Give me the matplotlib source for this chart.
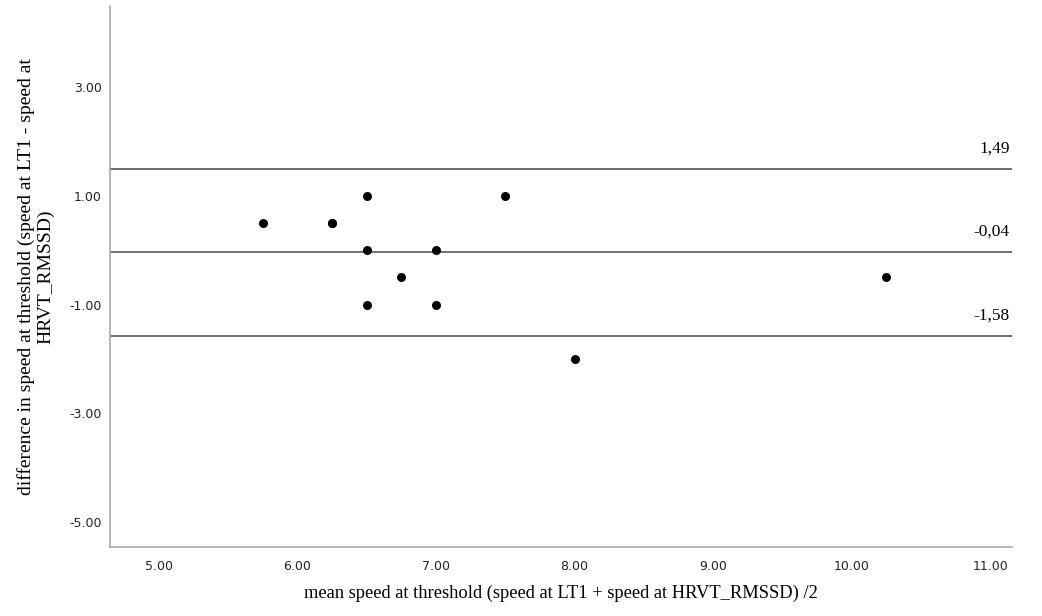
import matplotlib
matplotlib.use("Agg")
import matplotlib.pyplot as plt

mean_speed = [5.75, 6.25, 6.25, 6.5, 6.5, 6.5, 6.75, 7.0, 7.0, 7.5, 8.0, 10.25]
diff_speed = [0.5, 0.5, 0.5, 1.0, 0.0, -1.0, -0.5, 0.0, -1.0, 1.0, -2.0, -0.5]
loa_values = [1.49, -0.04, -1.58]
loa_labels = ["1,49", "-0,04", "-1,58"]
x_ticks = [5, 6, 7, 8, 9, 10, 11]
y_ticks = [3, 1, -1, -3, -5]

fig = plt.figure(figsize=(10.42, 6.16), dpi=100)
ax = fig.add_axes([0.1056, 0.112, 0.866, 0.878])

ax.scatter(mean_speed, diff_speed, s=42, color="black", zorder=3, linewidths=0)
for v, lab in zip(loa_values, loa_labels):
    ax.axhline(v, color="#555555", lw=1.2, zorder=2)
    ax.annotate(lab, xy=(1.0, v), xycoords=("axes fraction", "data"),
                xytext=(-2, 9), textcoords="offset points",
                ha="right", va="bottom", fontsize=12.5, family="Liberation Serif")

ax.set_xlim(4.647, 11.16)
ax.set_ylim(-5.46, 4.49)
ax.set_xticks(x_ticks)
ax.set_xticklabels([f"{t:.2f}" for t in x_ticks])
ax.set_yticks(y_ticks)
ax.set_yticklabels([f"{t:.2f}" for t in y_ticks])
ax.tick_params(axis="x", length=0, labelsize=9, pad=9, colors="#222222")
ax.tick_params(axis="y", length=0, labelsize=9, pad=6, colors="#222222")
for lab in ax.get_xticklabels() + ax.get_yticklabels():
    lab.set_family("DejaVu Sans")

for s in ["top", "right"]:
    ax.spines[s].set_visible(False)
for s in ["left", "bottom"]:
    ax.spines[s].set_color("#aaaaaa")
    ax.spines[s].set_linewidth(1.2)

ax.set_xlabel("mean speed at threshold (speed at LT1 + speed at HRVT_RMSSD) /2",
              family="Liberation Serif", fontsize=13.3, labelpad=9)
ax.set_ylabel("difference in speed at threshold (speed at LT1 - speed at\nHRVT_RMSSD)",
              family="Liberation Serif", fontsize=14, labelpad=11, linespacing=1.1)

fig.savefig("out.png", dpi=100)
